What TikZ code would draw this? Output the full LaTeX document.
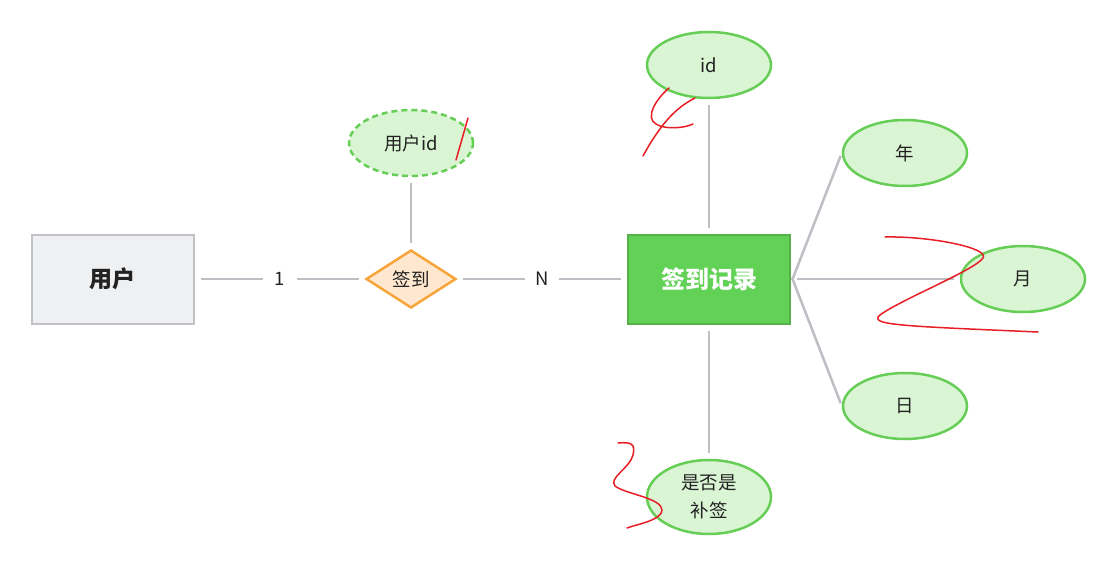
\documentclass[tikz,border=0pt]{standalone}
\usepackage{fontspec}
\newfontfamily\cjk{Noto Sans CJK SC}
\usetikzlibrary{shapes.geometric}
\definecolor{linegray}{RGB}{190,190,196}
\definecolor{userfill}{RGB}{239,240,242}
\definecolor{userdraw}{RGB}{194,194,198}
\definecolor{relfill}{RGB}{255,232,207}
\definecolor{reldraw}{RGB}{247,164,58}
\definecolor{attrfill}{RGB}{218,245,212}
\definecolor{attrdraw}{RGB}{102,206,86}
\definecolor{recfill}{RGB}{98,210,86}
\definecolor{recdraw}{RGB}{86,178,72}
\definecolor{txt}{RGB}{34,34,34}
\definecolor{scribble}{RGB}{232,30,38}
\tikzset{
  base/.style={font=\cjk\fontsize{18.5}{28}\selectfont, text=txt, align=center},
  entbox/.style={base, rectangle, minimum width=162pt, minimum height=89pt, line width=2pt},
  attr/.style={base, ellipse, minimum width=124pt, minimum height=66pt, draw=attrdraw, fill=attrfill, line width=2.5pt, inner sep=0pt},
  relbox/.style={base, diamond, minimum width=90pt, minimum height=58pt, draw=reldraw, fill=relfill, line width=2.5pt, inner sep=0pt},
  conn/.style={draw=linegray, line width=2.5pt, shorten <=6pt, shorten >=6pt},
  card/.style={base, fill=white, minimum width=34pt, inner sep=0pt},
  scrib/.style={draw=scribble, line width=1.5pt, line cap=round, line join=round}
}
\begin{document}
\begin{tikzpicture}[x=1pt,y=-1pt]
\useasboundingbox (0,0) rectangle (1115,564);
% nodes
\node[entbox, draw=userdraw, fill=userfill, font=\cjk\bfseries\fontsize{23}{27}\selectfont] (user) at (112.5,279) {用户};
\node[relbox] (sign) at (411,279) {签到};
\node[attr, dashed, dash pattern=on 6pt off 4pt] (uid) at (411,143) {用户id};
\node[entbox, draw=recdraw, fill=recfill, text=white, font=\cjk\bfseries\fontsize{24}{28}\selectfont] (rec) at (709,279) {签到记录};
\node[attr] (id) at (709,65) {id};
\node[attr] (nian) at (905,153) {年};
\node[attr] (yue) at (1023,279) {月};
\node[attr] (ri) at (905,406) {日};
\node[attr, minimum height=74pt] (bq) at (709,497) {是否是\\补签};
% connectors
\path[conn] (user) -- node[card] {1} (sign);
\path[conn] (sign) -- node[card] {N} (rec);
\path[conn] (sign) -- (uid);
\path[conn] (rec) -- (id);
\path[conn] (rec) -- (bq);
\path[conn] (rec) -- (yue);
\path[conn, shorten <=3pt, shorten >=3pt] ([yshift=-4pt]rec.east) -- (nian.west);
\path[conn, shorten <=3pt, shorten >=3pt] ([yshift=4pt]rec.east) -- (ri.west);
% red scribbles
\path[scrib] (468,118) .. controls (464,132) and (460,146) .. (456,160);
\path[scrib] (669,88) .. controls (655,100) and (645,118) .. (656,124)
  .. controls (665,130) and (685,128) .. (693,124);
\path[scrib] (695,98) .. controls (675,108) and (660,125) .. (643,156);
\path[scrib] (885,237) .. controls (930,236) and (990,248) .. (983,258)
  .. controls (975,270) and (900,300) .. (880,315)
  .. controls (868,325) and (900,326) .. (1038,332);
\path[scrib] (618,443) .. controls (630,442) and (636,443) .. (633,455)
  .. controls (630,468) and (608,478) .. (615,486)
  .. controls (625,494) and (662,498) .. (662,510)
  .. controls (662,520) and (638,524) .. (627,528);
\end{tikzpicture}
\end{document}
